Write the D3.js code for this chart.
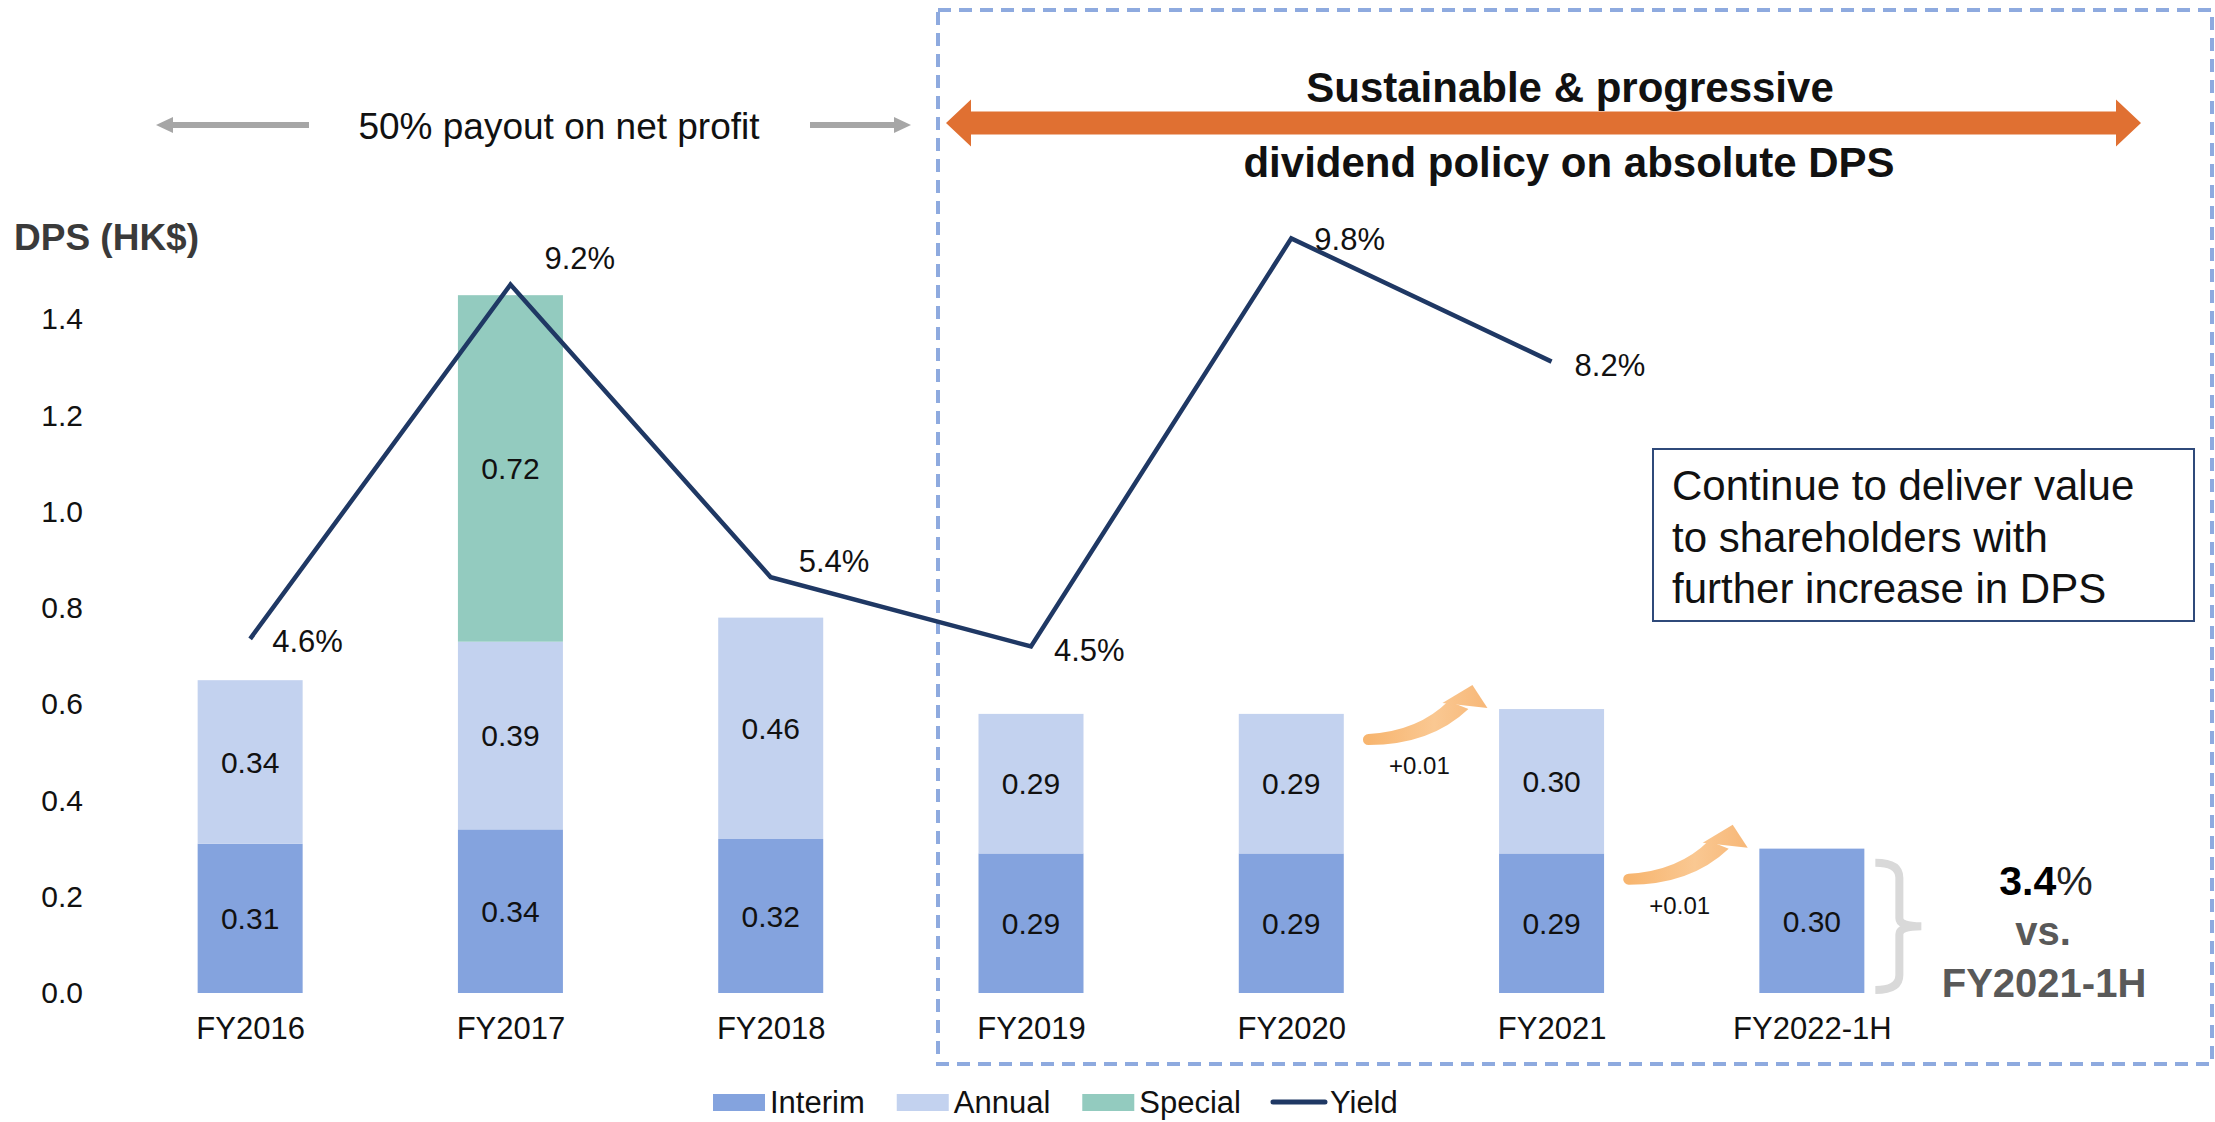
<!DOCTYPE html>
<html>
<head>
<meta charset="utf-8">
<script src="https://cdn.jsdelivr.net/npm/d3@7"></script>
<style>
  body { margin: 0; background: #fff; }
  svg { display: block; font-family: "Liberation Sans", Arial, sans-serif; }
</style>
</head>
<body>
<svg id="chart" width="2215" height="1122"></svg>
<script>
// ---- data ----
const categories = ["FY2016", "FY2017", "FY2018", "FY2019", "FY2020", "FY2021", "FY2022-1H"];
const interim = [0.31, 0.34, 0.32, 0.29, 0.29, 0.29, 0.30];
const annual  = [0.34, 0.39, 0.46, 0.29, 0.29, 0.30, 0];
const special = [0, 0.72, 0, 0, 0, 0, 0];
const yieldCategories = ["FY2016", "FY2017", "FY2018", "FY2019", "FY2020", "FY2021"];
const yieldPct = [4.6, 9.2, 5.4, 4.5, 9.8, 8.2];
const yTicks = [0, 0.2, 0.4, 0.6, 0.8, 1.0, 1.2, 1.4];
const increments = [
  {from: "FY2020", to: "FY2021", label: "+0.01"},
  {from: "FY2021", to: "FY2022-1H", label: "+0.01"}
];
const seriesNames = ["Interim", "Annual", "Special", "Yield"];

// label nudges for the yield labels (dx, dy) - layout only
const yieldLabelShift = [[22, 2], [34, -27], [28, -16], [23, 3], [23, 0], [23, 3]];

const colors = {Interim: "#84a3de", Annual: "#c3d2ef", Special: "#93cbbf", Yield: "#1f3864"};

const svg = d3.select("#chart");

// scales: bars on left axis, yield on a hidden right axis sharing the baseline
const x = d3.scalePoint().domain(categories).range([120, 1942]).padding(0.5);
const y = d3.scaleLinear().domain([0, 1.6]).range([993, 223]);
const yYield = d3.scaleLinear().domain([0, 10]).range([993, 223]);
const barW = 105;

// dashed box round the new policy period
svg.append("rect")
  .attr("x", 938).attr("y", 10).attr("width", 1274).attr("height", 1054)
  .attr("fill", "none").attr("stroke", "#8eaadf").attr("stroke-width", 4)
  .attr("stroke-dasharray", "13,8");

// y axis (no line, no ticks)
const yAxisG = svg.append("g").attr("transform", "translate(90,0)")
  .call(d3.axisLeft(y).tickValues(yTicks).tickFormat(d3.format(".1f")).tickSize(0).tickPadding(7));
yAxisG.select(".domain").remove();
yAxisG.selectAll("text").attr("font-size", 30).attr("fill", "#111").attr("font-family", "Liberation Sans, Arial");

svg.append("text").attr("x", 14).attr("y", 250)
  .attr("font-size", 37).attr("font-weight", "bold").attr("fill", "#3a3a3a")
  .text("DPS (HK$)");

// x axis
const xAxisG = svg.append("g").attr("transform", "translate(0,993)")
  .call(d3.axisBottom(x).tickSize(0).tickPadding(24));
xAxisG.select(".domain").remove();
xAxisG.selectAll("text").attr("font-size", 31).attr("fill", "#111").attr("font-family", "Liberation Sans, Arial");

// stacked bars
const rows = categories.map((c, i) => ({cat: c, Interim: interim[i], Annual: annual[i], Special: special[i]}));
const stack = d3.stack().keys(["Interim", "Annual", "Special"])(rows);

stack.forEach(layer => {
  const g = svg.append("g");
  layer.forEach(d => {
    const v = d[1] - d[0];
    if (v <= 0) return;
    g.append("rect")
      .attr("x", x(d.data.cat) - barW / 2).attr("width", barW)
      .attr("y", y(d[1])).attr("height", y(d[0]) - y(d[1]))
      .attr("fill", colors[layer.key]);
    g.append("text")
      .attr("x", x(d.data.cat)).attr("y", y((d[0] + d[1]) / 2))
      .attr("dy", "0.36em").attr("text-anchor", "middle")
      .attr("font-size", 30).attr("fill", "#111")
      .text(v.toFixed(2));
  });
});

// yield line
const line = d3.line().x((d, i) => x(yieldCategories[i])).y(d => yYield(d));
svg.append("path").datum(yieldPct)
  .attr("d", line).attr("fill", "none")
  .attr("stroke", colors.Yield).attr("stroke-width", 4.5).attr("stroke-linejoin", "miter");

svg.append("g").selectAll("text").data(yieldPct).join("text")
  .attr("x", (d, i) => x(yieldCategories[i]) + yieldLabelShift[i][0])
  .attr("y", (d, i) => yYield(d) + yieldLabelShift[i][1])
  .attr("dy", "0.36em").attr("font-size", 31).attr("fill", "#111")
  .text(d => d.toFixed(1) + "%");

// ---- annotations ----
// orange double arrow
function doubleArrow(x0, x1, cy, shaftHalf, headHalf, headLen) {
  return [[x0, cy], [x0 + headLen, cy - headHalf], [x0 + headLen, cy - shaftHalf],
          [x1 - headLen, cy - shaftHalf], [x1 - headLen, cy - headHalf], [x1, cy],
          [x1 - headLen, cy + headHalf], [x1 - headLen, cy + shaftHalf],
          [x0 + headLen, cy + shaftHalf], [x0 + headLen, cy + headHalf]];
}
svg.append("polygon")
  .attr("points", doubleArrow(946, 2141, 123, 11.5, 23.5, 25).join(" "))
  .attr("fill", "#e07032");
svg.append("text").attr("x", 1570).attr("y", 102).attr("text-anchor", "middle")
  .attr("font-size", 42).attr("font-weight", "bold").attr("fill", "#111")
  .text("Sustainable & progressive");
svg.append("text").attr("x", 1569).attr("y", 177).attr("text-anchor", "middle")
  .attr("font-size", 42).attr("font-weight", "bold").attr("fill", "#111")
  .text("dividend policy on absolute DPS");

// grey arrows around the payout text
function singleArrow(xFrom, xTo, cy, shaftHalf, headHalf, headLen) {
  const s = Math.sign(xTo - xFrom);
  const hb = xTo - s * headLen;
  return [[xFrom, cy - shaftHalf], [hb, cy - shaftHalf], [hb, cy - headHalf], [xTo, cy],
          [hb, cy + headHalf], [hb, cy + shaftHalf], [xFrom, cy + shaftHalf]];
}
svg.append("polygon").attr("points", singleArrow(309, 156, 125, 3, 8, 17).join(" ")).attr("fill", "#a6a6a6");
svg.append("polygon").attr("points", singleArrow(810, 911, 125, 3, 8, 17).join(" ")).attr("fill", "#a6a6a6");
svg.append("text").attr("x", 559).attr("y", 139).attr("text-anchor", "middle")
  .attr("font-size", 37).attr("fill", "#111")
  .text("50% payout on net profit");

// callout box
svg.append("rect").attr("x", 1653).attr("y", 449).attr("width", 541).attr("height", 172)
  .attr("fill", "#fff").attr("stroke", "#2f4a7a").attr("stroke-width", 2);
const callout = svg.append("text").attr("font-size", 42).attr("fill", "#111");
["Continue to deliver value", "to shareholders with", "further increase in DPS"].forEach((t, i) => {
  callout.append("tspan").attr("x", 1672).attr("y", 500 + i * 51.5).text(t);
});

// curved orange increment arrows
const defs = svg.append("defs");
const grad = defs.append("linearGradient").attr("id", "incGrad")
  .attr("gradientUnits", "userSpaceOnUse")
  .attr("x1", 0).attr("x2", 120).attr("y1", 0).attr("y2", 0);
grad.append("stop").attr("offset", "0%").attr("stop-color", "#f7b56f");
grad.append("stop").attr("offset", "55%").attr("stop-color", "#fac892");
grad.append("stop").attr("offset", "100%").attr("stop-color", "#f7b777");

const totals = categories.map((c, i) => interim[i] + annual[i] + special[i]);
increments.forEach(inc => {
  const mid = (x(inc.from) + x(inc.to)) / 2;
  const top = y(totals[categories.indexOf(inc.to)]);
  const g = svg.append("g").attr("transform", `translate(${mid - 53},${top + 30})`);
  // body: tapered curved band from a rounded tail to the head
  g.append("path")
    .attr("d", "M0,-5 Q50,-8 80,-38 L100,-30 Q62,6 0,6 A5.5,5.5 0 0 1 0,-5 Z")
    .attr("fill", "url(#incGrad)");
  // head
  g.append("polygon").attr("points", "74,-36 104,-54 119,-31").attr("fill", "url(#incGrad)");
  svg.append("text").attr("x", mid - 2).attr("y", top + 65).attr("text-anchor", "middle")
    .attr("font-size", 24).attr("fill", "#111").text(inc.label);
});

// bracket and growth note beside the last bar
const lastX = x(categories[categories.length - 1]) + barW / 2 + 11;
const bTop = y(totals[totals.length - 1]) + 14, bBot = y(0) - 3, bMid = (bTop + bBot) / 2;
svg.append("path")
  .attr("d", `M${lastX},${bTop} Q${lastX + 24},${bTop} ${lastX + 24},${bTop + 15} L${lastX + 24},${bMid - 8}
             Q${lastX + 24},${bMid} ${lastX + 46},${bMid} Q${lastX + 24},${bMid} ${lastX + 24},${bMid + 8}
             L${lastX + 24},${bBot - 15} Q${lastX + 24},${bBot} ${lastX},${bBot}`)
  .attr("fill", "none").attr("stroke", "#d9d9d9").attr("stroke-width", 8);

const note = svg.append("text").attr("x", 2046).attr("y", 895).attr("text-anchor", "middle")
  .attr("font-size", 41).attr("font-weight", "bold").attr("fill", "#000");
note.append("tspan").text("3.4");
note.append("tspan").attr("font-weight", "normal").attr("fill", "#222").text("%");
svg.append("text").attr("x", 2043).attr("y", 945).attr("text-anchor", "middle")
  .attr("font-size", 40).attr("font-weight", "bold").attr("fill", "#595959").text("vs.");
svg.append("text").attr("x", 2044).attr("y", 997).attr("text-anchor", "middle")
  .attr("font-size", 40).attr("font-weight", "bold").attr("fill", "#595959").text("FY2021-1H");

// legend
const legend = svg.append("g");
let lx = 713;
const ly = 1102;
seriesNames.forEach(name => {
  if (name === "Yield") {
    legend.append("line").attr("x1", lx).attr("x2", lx + 52).attr("y1", ly).attr("y2", ly)
      .attr("stroke", colors.Yield).attr("stroke-width", 5).attr("stroke-linecap", "round");
  } else {
    legend.append("rect").attr("x", lx).attr("y", ly - 8).attr("width", 52).attr("height", 17)
      .attr("fill", colors[name]);
  }
  const t = legend.append("text").attr("x", lx + 57).attr("y", ly).attr("dy", "0.36em")
    .attr("font-size", 31).attr("fill", "#111").text(name);
  lx += 57 + t.node().getComputedTextLength() + 32;
});
</script>
</body>
</html>
